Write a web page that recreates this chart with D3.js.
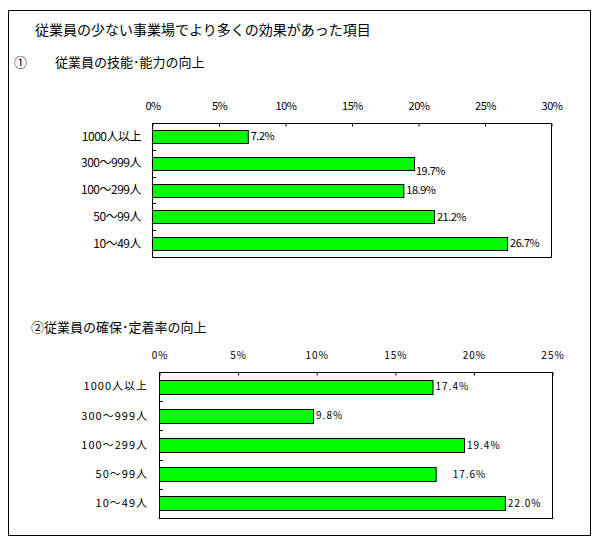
<!DOCTYPE html>
<meta charset="utf-8">
<style>
  body { margin: 0; background: #fff; }
  text { font-family: "Noto Sans CJK JP", sans-serif; fill: #000; }
</style>
<body>
<script src="https://d3js.org/d3.v7.min.js"></script>
<script>
  var mainTitle = "従業員の少ない事業場でより多くの効果があった項目";
  var categories = ["1000人以上", "300～999人", "100～299人", "50～99人", "10～49人"];

  var mark1 = "①";
  var title1 = "従業員の技能･能力の向上";
  var values1 = [7.2, 19.7, 18.9, 21.2, 26.7];
  var ticks1 = [0, 5, 10, 15, 20, 25, 30];

  var title2 = "②従業員の確保･定着率の向上";
  var values2 = [17.4, 9.8, 19.4, 17.6, 22.0];
  var ticks2 = [0, 5, 10, 15, 20, 25];

  var svg = d3.select("body").append("svg")
    .attr("width", 600)
    .attr("height", 543);

  // outer frame
  svg.append("rect")
    .attr("x", 8.5).attr("y", 10.5)
    .attr("width", 582).attr("height", 525)
    .attr("fill", "none").attr("stroke", "#000");

  svg.append("text")
    .attr("x", 35).attr("y", 35)
    .style("font-size", "14px")
    .text(mainTitle);

  svg.append("text")
    .attr("x", 14).attr("y", 67)
    .style("font-size", "13px")
    .text(mark1);

  svg.append("text")
    .attr("x", 55).attr("y", 67)
    .style("font-size", "13px")
    .text(title1);

  svg.append("text")
    .attr("x", 31).attr("y", 332)
    .style("font-size", "13px")
    .text(title2);

  function drawChart(opt) {
    var x = d3.scaleLinear()
      .domain([0, d3.max(opt.ticks)])
      .range([opt.left, opt.right]);

    var y = d3.scaleBand()
      .domain(categories)
      .range([opt.top, opt.bottom]);

    var g = svg.append("g");

    // plot frame
    g.append("rect")
      .attr("x", opt.left + 0.5).attr("y", opt.top + 0.5)
      .attr("width", opt.right - opt.left).attr("height", opt.bottom - opt.top)
      .attr("fill", "none").attr("stroke", "#000");

    // top axis, ticks pointing into the plot
    var xAxis = d3.axisTop(x)
      .tickValues(opt.ticks)
      .tickSize(-3)
      .tickPadding(14)
      .tickFormat(function (d) { return d + "%"; });

    var ax = g.append("g")
      .attr("transform", "translate(0.5," + (opt.top + 0.5) + ")")
      .call(xAxis);
    ax.select(".domain").remove();
    ax.selectAll("line").attr("stroke", "#000");
    ax.selectAll("text")
      .attr("font-family", null)
      .style("font-size", opt.tickFont)
      .style("letter-spacing", opt.spacing)
      .attr("fill", "#000");

    // left category boundary ticks
    g.selectAll(".ytick")
      .data(categories.slice(1))
      .enter().append("line")
      .attr("x1", opt.left).attr("x2", opt.left + 4)
      .attr("y1", function (d) { return Math.round(y(d)) + 0.5; })
      .attr("y2", function (d) { return Math.round(y(d)) + 0.5; })
      .attr("stroke", "#000");

    // category labels
    g.selectAll(".cat")
      .data(categories)
      .enter().append("text")
      .attr("x", opt.left - 11)
      .attr("y", function (d) { return y(d) + y.bandwidth() / 2; })
      .attr("dy", "0.35em")
      .attr("text-anchor", "end")
      .style("font-size", opt.catFont)
      .style("letter-spacing", opt.spacing)
      .text(function (d) { return d; });

    var data = opt.values.map(function (v, i) { return { cat: categories[i], v: v }; });

    g.selectAll(".bar")
      .data(data)
      .enter().append("rect")
      .attr("x", x(0) + 0.5)
      .attr("y", function (d) { return Math.round(y(d.cat) + (y.bandwidth() - opt.barH) / 2) + 0.5; })
      .attr("width", function (d) { return x(d.v) - x(0); })
      .attr("height", opt.barH)
      .attr("fill", "#00ff00")
      .attr("stroke", "#000");

    g.selectAll(".val")
      .data(data)
      .enter().append("text")
      .attr("x", function (d, i) { return x(d.v) + 3 + (opt.shiftX[i] || 0); })
      .attr("y", function (d, i) { return y(d.cat) + y.bandwidth() / 2 + (opt.shiftY[i] || 0); })
      .attr("dy", "0.35em")
      .style("font-size", opt.valFont)
      .style("letter-spacing", opt.spacing)
      .text(function (d) { return d.v.toFixed(1) + "%"; });
  }

  drawChart({
    values: values1, ticks: ticks1,
    left: 152, right: 551, top: 123, bottom: 257,
    barH: 13, tickFont: "11px", catFont: "12px", valFont: "11px", spacing: "-0.5px",
    shiftX: [0, -1, 0, 0, 0], shiftY: [0, 8, 0, 0, 0]
  });

  drawChart({
    values: values2, ticks: ticks2,
    left: 159, right: 552, top: 372, bottom: 518,
    barH: 14, tickFont: "10px", catFont: "11px", valFont: "10px", spacing: "1px",
    shiftX: [0, 0, 0, 14, 0], shiftY: [0, 0, 0, 0, 0]
  });
</script>
</body>
